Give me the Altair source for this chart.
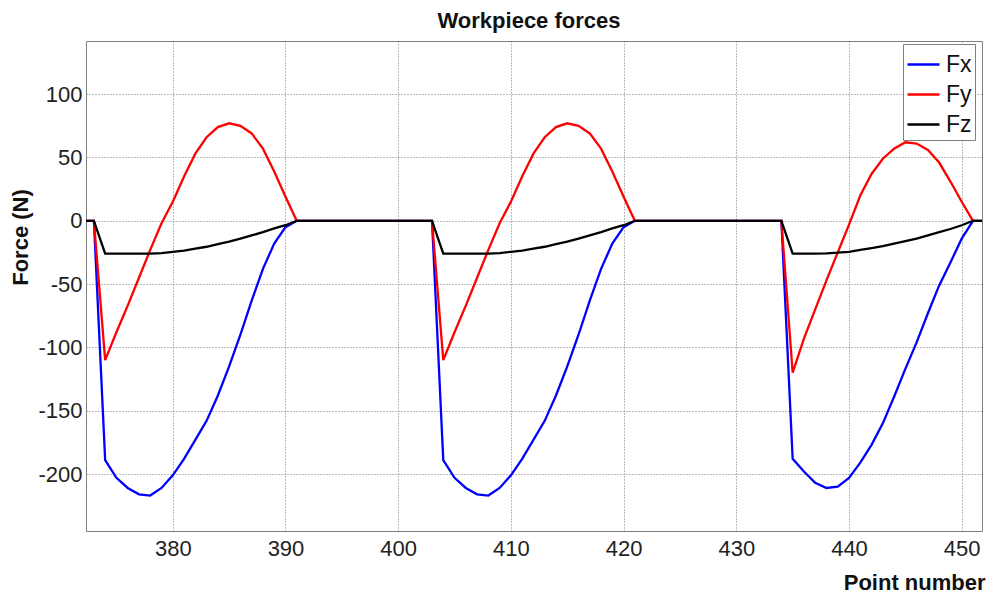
import altair as alt
import pandas as pd

# Point numbers 372..452
POINTS = list(range(372, 453))

FX = [0, 0,
      -189, -203, -211, -216, -217, -211, -201, -188, -173, -158, -138, -115, -90, -63, -38, -18, -5, 0,
      0, 0, 0, 0, 0, 0, 0, 0, 0, 0, 0, 0,
      -189, -203, -211, -216, -217, -211, -201, -188, -173, -158, -138, -115, -90, -63, -38, -18, -5, 0,
      0, 0, 0, 0, 0, 0, 0, 0, 0, 0, 0, 0, 0,
      -188, -198, -207, -211, -210, -203, -191, -177, -160, -139, -117, -96, -73, -51, -33, -14, 0,
      0]

FY = [0, 0,
      -110, -88, -67, -45, -23, -2, 15, 35, 53, 66, 74, 77, 75, 69, 57, 39, 19, 0,
      0, 0, 0, 0, 0, 0, 0, 0, 0, 0, 0, 0,
      -110, -88, -67, -45, -23, -2, 15, 35, 53, 66, 74, 77, 75, 69, 57, 39, 19, 0,
      0, 0, 0, 0, 0, 0, 0, 0, 0, 0, 0, 0, 0,
      -120, -93, -70, -47, -25, -3, 20, 37, 49, 57, 62, 61, 56, 46, 31, 15, 0,
      0]

FZ = [0, 0,
      -26, -26, -26, -26, -26, -25.5, -24.5, -23.5, -22, -20.5, -18.5, -16.5, -14, -11.5, -9, -6, -3.5, 0,
      0, 0, 0, 0, 0, 0, 0, 0, 0, 0, 0, 0,
      -26, -26, -26, -26, -26, -25.5, -24.5, -23.5, -22, -20.5, -18.5, -16.5, -14, -11.5, -9, -6, -3.5, 0,
      0, 0, 0, 0, 0, 0, 0, 0, 0, 0, 0, 0, 0,
      -26, -26, -26, -25.7, -25.2, -24.5, -23, -21.5, -20, -18, -16, -14, -11.5, -9, -6.5, -3.5, 0,
      0]

SERIES = ["Fx", "Fy", "Fz"]
COLORS = ["#0000ff", "#ff0000", "#000000"]
XTICKS = [380, 390, 400, 410, 420, 430, 440, 450]
YTICKS = [-200, -150, -100, -50, 0, 50, 100]

rows = []
for name, vals in zip(SERIES, [FX, FY, FZ]):
    for p, v in zip(POINTS, vals):
        rows.append({"point": p, "force": v, "series": name})
df = pd.DataFrame(rows)

FONT = "Liberation Sans"

chart = alt.Chart(df).mark_line(strokeWidth=2.3, clip=True).encode(
    x=alt.X("point:Q",
            scale=alt.Scale(domain=[372.3, 451.8], nice=False, zero=False),
            axis=alt.Axis(values=XTICKS, title="Point number", labelExpr="'' + datum.value",
                          labelPadding=7, labelBaseline="top",
                          titleX=899, titleY=58, titleAlign="right", titleBaseline="alphabetic",
                          titleAnchor="end")),
    y=alt.Y("force:Q",
            scale=alt.Scale(domain=[-245, 142], nice=False, zero=False),
            axis=alt.Axis(values=YTICKS, title="Force (N)", labelExpr="'' + datum.value",
                          labelPadding=4,
                          titleX=-59, titleY=196, titleAngle=270, titleAlign="center",
                          titleBaseline="alphabetic")),
    color=alt.Color("series:N",
                    scale=alt.Scale(domain=SERIES, range=COLORS),
                    legend=alt.Legend(title=None, orient="none", legendX=817, legendY=3,
                                      symbolType="stroke", symbolSize=1024,
                                      symbolStrokeWidth=2.5, labelFontSize=23,
                                      labelOffset=5, rowPadding=-5, padding=3,
                                      strokeColor="#808080", fillColor="white",
                                      labelFont=FONT, labelColor="#111111")),
).properties(
    width=896,
    height=490,
    autosize="none",
    background="white",
    padding={"left": 86, "top": 41, "right": 8, "bottom": 65},
    title=alt.TitleParams("Workpiece forces", font=FONT, fontSize=22, fontWeight="bold",
                          color="#111111", anchor="middle", baseline="alphabetic",
                          offset=15, dx=-5, dy=24),
).configure_view(
    stroke="#808080", strokeWidth=1
).configure_axis(
    domain=False, ticks=False, grid=True, gridDash=[1, 2], gridColor="#777777",
    gridWidth=1, gridOpacity=1,
    labelFont=FONT, labelFontSize=22, labelColor="#222222",
    titleFont=FONT, titleFontSize=22, titleFontWeight="bold", titleColor="#111111",
)

chart.save("out.html", embed_options={"renderer": "svg", "actions": False})
